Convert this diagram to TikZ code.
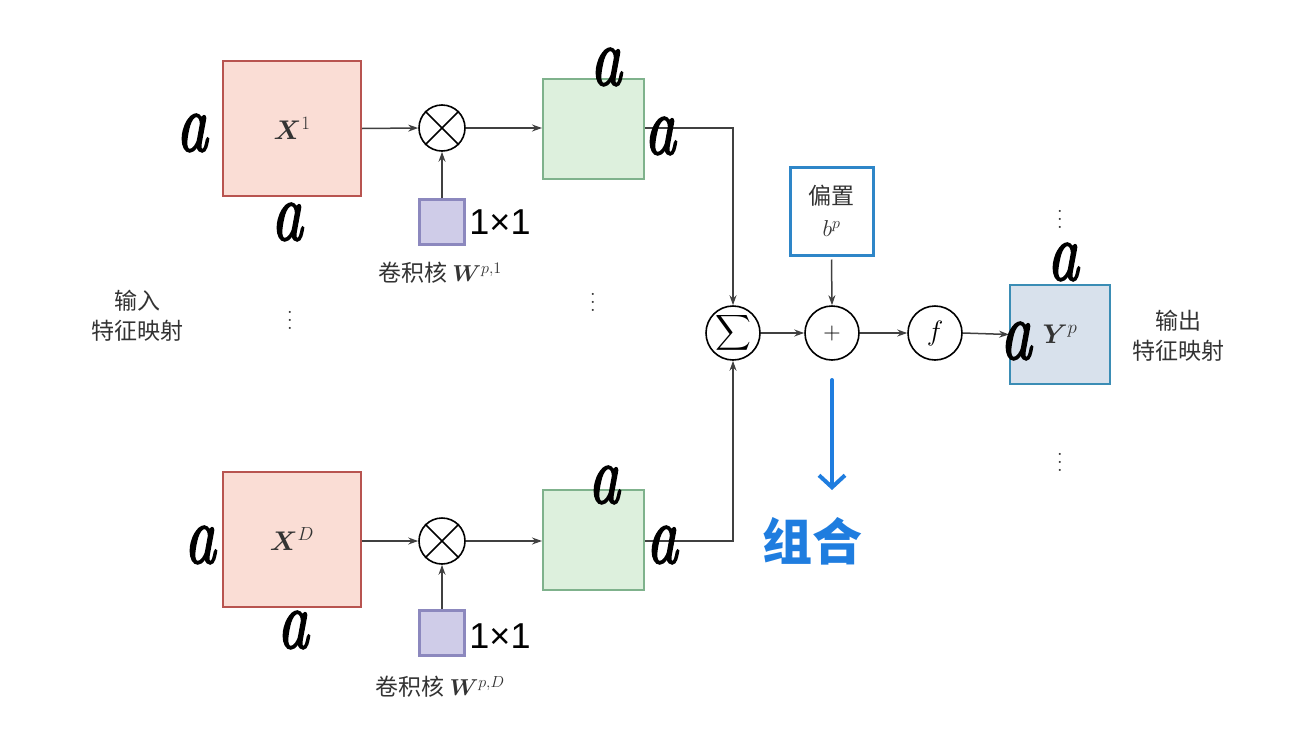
\RequirePackage{fix-cm}
\documentclass[tikz,border=0pt]{standalone}
\usepackage{amsmath,bm}
\usepackage{fontspec}
\usetikzlibrary{arrows.meta}
\newfontfamily\cjk{Noto Sans CJK SC}
\newfontfamily\onefont{Liberation Sans}
\newfontface\handa{lmroman10-italic.otf}[FakeBold=2.5]
\newcommand{\hwa}{\scalebox{0.85}[1.15]{\handa\fontsize{72}{72}\selectfont a}}
\definecolor{redfill}{HTML}{FADDD5}
\definecolor{reddraw}{HTML}{B85450}
\definecolor{greenfill}{HTML}{DDF0DD}
\definecolor{greendraw}{HTML}{7FB28C}
\definecolor{purpfill}{HTML}{CFCCE8}
\definecolor{purpdraw}{HTML}{8C88BE}
\definecolor{biasblue}{HTML}{2E86C8}
\definecolor{yfill}{HTML}{D8E1EC}
\definecolor{ydraw}{HTML}{3B8DB5}
\definecolor{handblue}{HTML}{1F7DDF}
\definecolor{txt}{HTML}{333333}
\begin{document}
\begin{tikzpicture}[x=1pt,y=-1pt,
  hand/.style={text=black, inner sep=0},
  onebyone/.style={font=\onefont\fontsize{36}{36}\selectfont, text=black, inner sep=0},
  inbox/.style={rectangle, draw=reddraw, fill=redfill, line width=2pt, minimum width=138pt, minimum height=135pt, inner sep=0, text=txt, font=\fontsize{27}{27}\selectfont},
  midbox/.style={rectangle, draw=greendraw, fill=greenfill, line width=2pt, minimum width=101pt, minimum height=100pt, inner sep=0},
  kern/.style={rectangle, draw=purpdraw, fill=purpfill, line width=3pt, minimum width=45pt, minimum height=45pt, inner sep=0},
  op/.style={circle, draw=black, line width=1.6pt, minimum size=54pt, inner sep=0, font=\fontsize{24}{24}\selectfont},
  mul/.style={circle, draw=black, line width=1.6pt, minimum size=46pt, inner sep=0},
  arr/.style={-{Stealth[length=10pt,width=7pt]}, line width=1.5pt, draw=black!75},
  lab/.style={font=\cjk\fontsize{23}{30}\selectfont, text=txt, align=center, inner sep=0},
  dots/.style={text=txt, inner sep=0}
]
\useasboundingbox (0,0) rectangle (1314,747);

% inputs
\node[inbox] (x1) at (292,128.5) {$\bm{X}^{1}$};
\node[inbox] (xd) at (292,539) {$\bm{X}^{D}$};
% multiplications
\node[mul] (m1) at (442,128) {};
\draw[line width=1.6pt] (m1.north west) -- (m1.south east) (m1.north east) -- (m1.south west);
\node[mul] (md) at (442,541) {};
\draw[line width=1.6pt] (md.north west) -- (md.south east) (md.north east) -- (md.south west);
% kernels
\node[kern] (k1) at (442,222) {};
\node[kern] (kd) at (442,632.5) {};
% intermediate
\node[midbox] (g1) at (593.5,129) {};
\node[midbox] (gd) at (593.5,540) {};

% captions
\node[lab] (c1) at (440,273) {卷积核 $\bm{W}^{p,1}$};
\node[lab] (cd) at (440,687) {卷积核 $\bm{W}^{p,D}$};
\node[lab] (inl) at (137,316) {输入\\特征映射};

% dots
\node[dots] (d1) at (290,314) {\scalebox{2}{$\vdots$}};
\node[dots] (d2) at (593,296) {\scalebox{2}{$\vdots$}};
\node[dots] (d3) at (1060,213) {\scalebox{2}{$\vdots$}};
\node[dots] (d4) at (1060,456) {\scalebox{2}{$\vdots$}};

% operators
\node[op, font=\fontsize{28}{28}\selectfont] (sig) at (733,333) {$\displaystyle\sum$};
\node[op] (plus) at (832,333) {$+$};
\node[op, font=\fontsize{28}{28}\selectfont] (f) at (935,333) {$f$};
\node[rectangle, draw=biasblue, line width=3pt, minimum width=83pt, minimum height=88pt, align=center, inner sep=0, font=\fontsize{23}{32}\selectfont, text=txt] (bias) at (831.5,211) {{\cjk 偏置}\\$b^{p}$};
\node[rectangle, draw=ydraw, fill=yfill, line width=2pt, minimum width=100pt, minimum height=99pt, inner sep=0, text=txt, font=\fontsize{27}{27}\selectfont] (y) at (1060,334.5) {$\bm{Y}^{p}$};
\node[lab] (outl) at (1178,336) {输出\\特征映射};

% connectors
\draw[arr] (x1.east) -- (m1.west);
\draw[arr] (m1.east) -- (g1.west |- m1.east);
\draw[arr] (k1.north) -- (m1.south);
\draw[arr] (xd.east |- md.west) -- (md.west);
\draw[arr] (md.east) -- (gd.west |- md.east);
\draw[arr] (kd.north) -- (md.south);
\draw[arr] (g1.east |- m1.east) -| (sig.north);
\draw[arr] (gd.east |- md.east) -| (sig.south);
\draw[arr] (sig.east) -- (plus.west);
\draw[arr] (bias.south) ++(0,3) -- (plus.north);
\draw[arr] (plus.east) -- (f.west);
\draw[arr] (f.east) -- (y.west);

% handwritten annotations
\node[hand] (a1) at (192,133) {\hwa};
\node[hand] (a2) at (287,222) {\hwa};
\node[hand] (a3) at (606,67) {\hwa};
\node[hand] (a4) at (660,136) {\hwa};
\node[hand] (a5) at (200,545) {\hwa};
\node[hand] (a6) at (293,630) {\hwa};
\node[hand] (a7) at (604,485) {\hwa};
\node[hand] (a8) at (662,545) {\hwa};
\node[hand] (a9) at (1063,262) {\hwa};
\node[hand] (a10) at (1016,341) {\hwa};
\node[onebyone] (s1) at (500,222) {1×1};
\node[onebyone] (s2) at (500,636) {1×1};

\coordinate (bs) at (832,380);
\coordinate (be) at (832,490);
\draw[handblue, line width=4pt, line cap=round, -{Straight Barb[length=12pt,width=26pt,line width=4pt]}] (bs) -- (be);
\node[font=\cjk\bfseries\fontsize{50}{50}\selectfont, text=handblue, inner sep=0] (zh) at (812,541) {组合};
\end{tikzpicture}
\end{document}
